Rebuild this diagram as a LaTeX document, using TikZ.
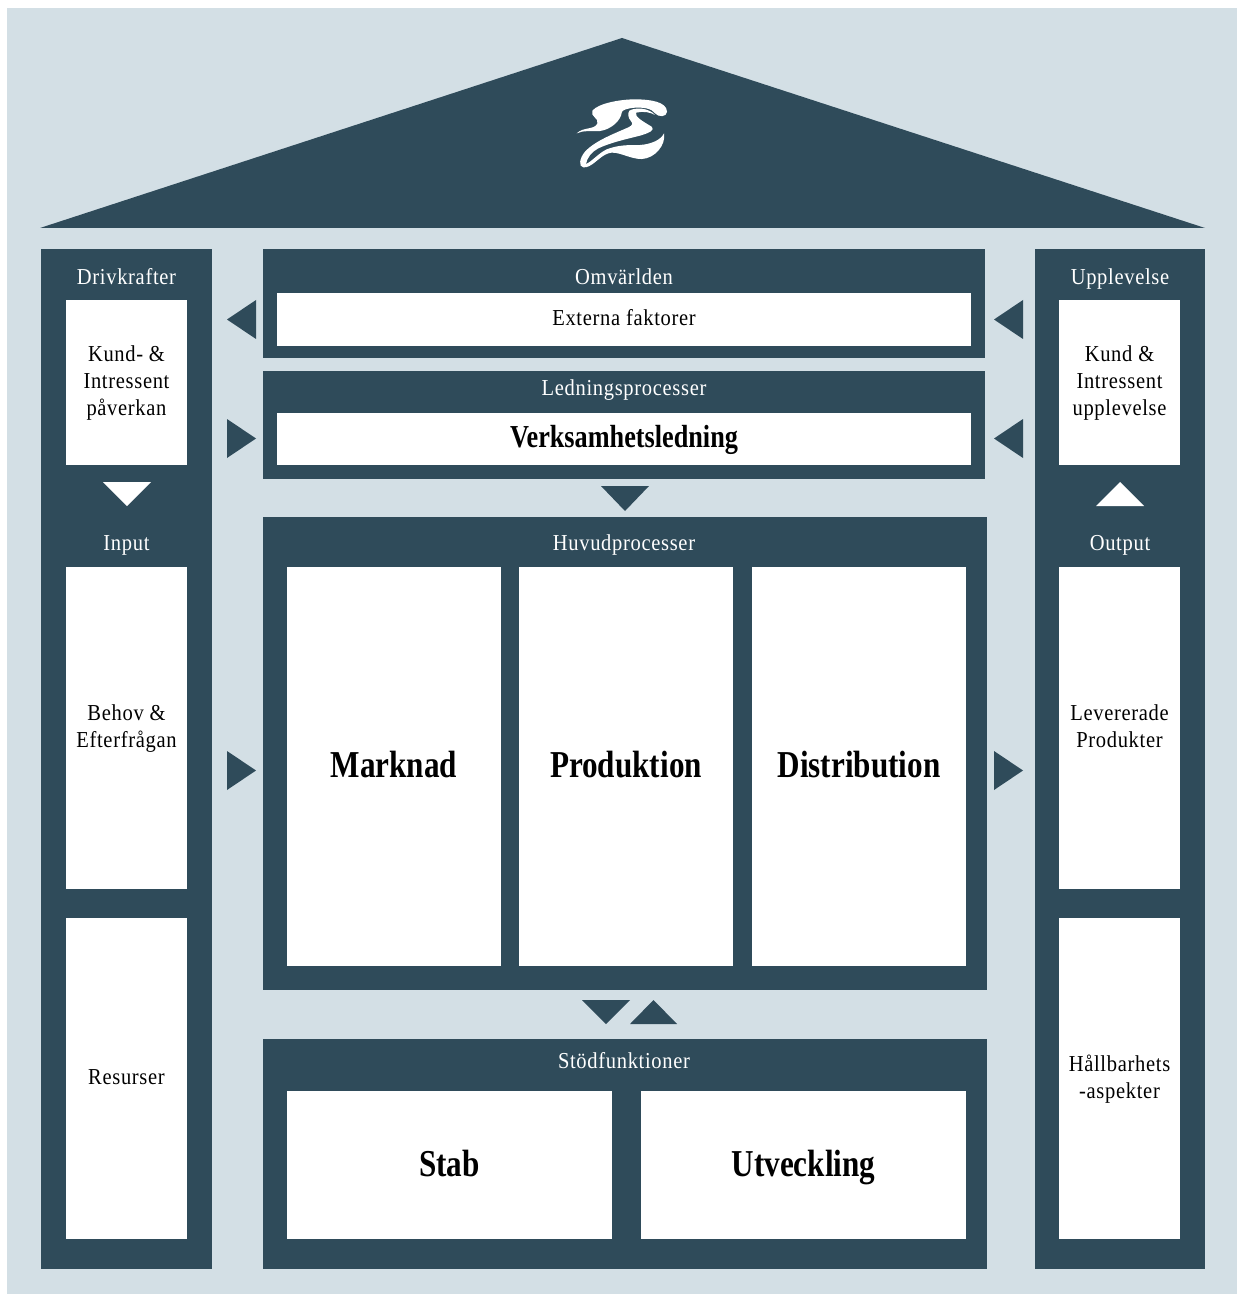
\documentclass[tikz,border=0pt]{standalone}
\usepackage{fontspec}
\setmainfont{Liberation Serif}
\newfontfamily\smallf[LetterSpace=3,FakeStretch=0.9]{Liberation Serif}
\newfontfamily\bigf[FakeStretch=0.82]{Liberation Serif Bold}
\definecolor{hdark}{HTML}{2F4B5A}
\definecolor{hlight}{HTML}{D3DFE5}
\tikzset{
  box/.style={inner sep=0pt,outer sep=0pt,draw=none,align=center},
  darkbox/.style={box,fill=hdark},
  whitebox/.style={box,fill=white,text=black,font=\fontsize{11.4}{13.4}\selectfont\smallf},
  bigtext/.style={font=\fontsize{19}{22}\selectfont\bigf},
  midtext/.style={font=\fontsize{16}{18}\selectfont\bigf},
  title/.style={inner sep=0pt,text=white,text height=10pt,text depth=2.5pt,font=\fontsize{11.4}{13.4}\selectfont\smallf},
  tri/.style={fill=hdark,draw=none},
  whitetri/.style={fill=white,draw=none}
}
% name, x0, y0, x1, y1, style, text
\newcommand{\pbox}[7]{%
  \pgfmathsetmacro{\bw}{(#4-#2)*0.5}%
  \pgfmathsetmacro{\bh}{(#5-#3)*0.5}%
  \node[#6,minimum width=\bw pt,minimum height=\bh pt] (#1) at ({(#2+#4)/2},{(#3+#5)/2}) {#7};%
}
\newcommand{\lift}{\rule[-3.4pt]{0pt}{13pt}}
\newcommand{\liftb}{\rule[-5pt]{0pt}{21pt}}
\begin{document}
\begin{tikzpicture}[x=0.5pt,y=-0.5pt]
\useasboundingbox (0,0) rectangle (1237,1294);
\fill[white] (0,0) rectangle (1237,1294);
\fill[hlight] (7,8) rectangle (1237,1294);
\fill[hdark] (622,38) -- (1205,228) -- (40,228) -- cycle;
% logo
\begin{scope}[shift={(540,70)},x=0.1667pt,y=-0.1667pt]
\fill[white] (110,190) .. controls (130,170) and (165,180) .. (172,160)
  .. controls (178,145) and (150,140) .. (157,122)
  .. controls (175,100) and (240,88) .. (285,88)
  .. controls (330,88) and (380,95) .. (381,125)
  .. controls (380,142) and (355,142) .. (345,130)
  .. controls (335,115) and (310,112) .. (285,113)
  .. controls (262,115) and (245,120) .. (245,128)
  .. controls (243,150) and (215,178) .. (180,183)
  .. controls (155,185) and (130,180) .. (110,190) -- cycle;
\fill[white] (268,122) .. controls (285,112) and (325,112) .. (345,135)
  .. controls (335,128) and (310,122) .. (288,128)
  .. controls (283,140) and (310,155) .. (335,170)
  .. controls (345,180) and (330,188) .. (300,197)
  .. controls (260,207) and (210,218) .. (175,235)
  .. controls (155,245) and (140,265) .. (138,282)
  .. controls (155,275) and (175,250) .. (200,238)
  .. controls (235,225) and (260,225) .. (300,225)
  .. controls (335,222) and (362,210) .. (372,190)
  .. controls (378,225) and (345,265) .. (305,267)
  .. controls (270,268) and (230,240) .. (205,250)
  .. controls (178,258) and (155,295) .. (130,292)
  .. controls (115,290) and (118,265) .. (135,245)
  .. controls (165,212) and (225,190) .. (265,172)
  .. controls (280,165) and (278,160) .. (272,152)
  .. controls (265,145) and (262,130) .. (268,122) -- cycle;
\end{scope}
% columns
\pbox{leftcol}{41}{249}{212}{1269}{darkbox}{}
\pbox{rightcol}{1035}{249}{1205}{1269}{darkbox}{}
\pbox{omv}{263}{249}{985}{358}{darkbox}{}
\pbox{led}{263}{371}{985}{479}{darkbox}{}
\pbox{huv}{263}{517}{987}{990}{darkbox}{}
\pbox{stod}{263}{1039}{987}{1269}{darkbox}{}
% titles
\node[title] (t1) at (126.5,277) {Drivkrafter};
\node[title] (t2) at (126.5,543) {Input};
\node[title] (t3) at (1120,277) {Upplevelse};
\node[title] (t4) at (1120,543) {Output};
\node[title] (t5) at (624,277) {Omvärlden};
\node[title] (t6) at (624,388) {Ledningsprocesser};
\node[title] (t7) at (624,543) {Huvudprocesser};
\node[title] (t8) at (624,1061) {Stödfunktioner};
% white boxes
\pbox{w1}{66}{300}{187}{465}{whitebox}{\lift Kund- \&\\\lift Intressent\\\lift påverkan}
\pbox{w2}{66}{567}{187}{889}{whitebox}{\lift Behov \&\\\lift Efterfrågan}
\pbox{w3}{66}{918}{187}{1239}{whitebox}{\lift Resurser}
\pbox{w4}{1059}{300}{1180}{465}{whitebox}{\lift Kund \&\\\lift Intressent\\\lift upplevelse}
\pbox{w5}{1059}{567}{1180}{889}{whitebox}{\lift Levererade\\\lift Produkter}
\pbox{w6}{1059}{918}{1180}{1239}{whitebox}{\lift Hållbarhets\\\lift -aspekter}
\pbox{w7}{277}{293}{971}{346}{whitebox}{\lift Externa faktorer}
\pbox{w8}{277}{413}{971}{465}{whitebox,midtext}{\rule[-4pt]{0pt}{16.5pt}Verksamhetsledning}
\pbox{w9}{287}{567}{501}{966}{whitebox,bigtext}{\liftb Marknad}
\pbox{w10}{519}{567}{733}{966}{whitebox,bigtext}{\liftb Produktion}
\pbox{w11}{752}{567}{966}{966}{whitebox,bigtext}{\liftb Distribution}
\pbox{w12}{287}{1091}{612}{1239}{whitebox,bigtext}{\liftb Stab}
\pbox{w13}{641}{1091}{966}{1239}{whitebox,bigtext}{\liftb Utveckling}
% triangles
\fill[tri] (256,300) -- (256,339) -- (227,319.5) -- cycle;
\fill[tri] (227,419) -- (227,458) -- (256,438.5) -- cycle;
\fill[tri] (1023,300) -- (1023,339) -- (994,319.5) -- cycle;
\fill[tri] (1023,419) -- (1023,458) -- (994,438.5) -- cycle;
\fill[tri] (601,486) -- (649,486) -- (625,511) -- cycle;
\fill[whitetri] (103,482) -- (151,482) -- (127,506) -- cycle;
\fill[whitetri] (1096,506) -- (1144,506) -- (1120,482) -- cycle;
\fill[tri] (227,751) -- (227,790) -- (256,770.5) -- cycle;
\fill[tri] (994,751) -- (994,790) -- (1023,770.5) -- cycle;
\fill[tri] (582,1000) -- (630,1000) -- (606,1024) -- cycle;
\fill[tri] (630,1024) -- (677,1024) -- (653.5,1000) -- cycle;
\end{tikzpicture}
\end{document}
